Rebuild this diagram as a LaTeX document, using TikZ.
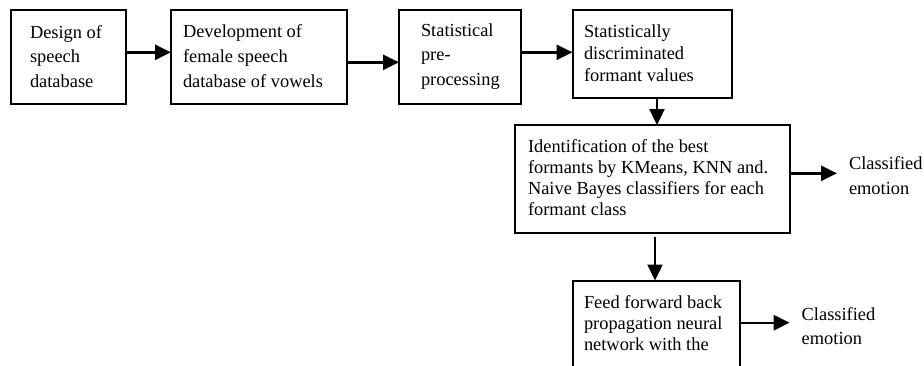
\documentclass[tikz,border=0pt]{standalone}
\usepackage{fontspec}
\setmainfont{Liberation Serif}
\usetikzlibrary{arrows.meta}
\newcommand{\tbox}[3]{\parbox[t]{#1}{\fontsize{18.4}{#2}\selectfont\raggedright #3}}
\begin{document}
\begin{tikzpicture}[x=1pt,y=-1pt,
  box/.style={draw, line width=2pt, inner sep=0pt, outer sep=0pt, anchor=north west},
  txt/.style={inner sep=0pt, outer sep=0pt, anchor=base west},
  arr/.style={line width=2.4pt, -{Triangle[length=16pt,width=15pt]}}]
\useasboundingbox (0,0) rectangle (924,365);
\clip (0,0) rectangle (924,365);
% boxes
\node[box, minimum width=115pt, minimum height=94pt] (b1) at (10.5,10) {};
\node[box, minimum width=176pt, minimum height=94pt] (b2) at (171,10) {};
\node[box, minimum width=122pt, minimum height=94pt] (b3) at (399,10) {};
\node[box, minimum width=159pt, minimum height=88pt] (b4) at (572.5,10) {};
\node[box, minimum width=275pt, minimum height=107.5pt] (b5) at (515,125) {};
\node[box, minimum width=167pt, minimum height=100pt] (b6) at (572.5,280.5) {};
% texts
\node[txt] (t1) at (30,38.3) {\tbox{95pt}{24.5}{Design of\\speech\\database}};
\node[txt] (t2) at (183,37.3) {\tbox{160pt}{25}{Development of\\female speech\\database of vowels}};
\node[txt] (t3) at (421,36.7) {\tbox{95pt}{24.2}{Statistical\\pre-\\processing}};
\node[txt] (t4) at (584,37.3) {\tbox{140pt}{22}{Statistically\\discriminated\\formant values}};
\node[txt] (t5) at (528,152.7) {\tbox{255pt}{21}{Identification of the best\\formants by KMeans, KNN and.\\Naive Bayes classifiers for each\\formant class}};
\node[txt] (t6) at (584,308.3) {\tbox{150pt}{21}{Feed forward back\\propagation neural\\network with the}};
\node[txt] (L1) at (849,169.3) {\tbox{75pt}{25}{Classified\\emotion}};
\node[txt] (L2) at (801.7,320) {\tbox{75pt}{24}{Classified\\emotion}};
% connectors
\draw[arr] (b1.east |- 0,52.3) -- (b2.west |- 0,52.3);
\draw[arr] (b2.east |- 0,62.3) -- (b3.west |- 0,62.3);
\draw[arr] (b3.east |- 0,52.3) -- (b4.west |- 0,52.3);
\draw[arr] (b4.south -| 657,0) -- (b5.north -| 657,0);
\draw[arr] (b5.east |- 0,173.3) -- ([xshift=-12pt]L1.west |- 0,173.3);
\draw[arr] ([yshift=-4pt]b5.south -| 655,0) -- (b6.north -| 655,0);
\draw[arr] (b6.east |- 0,322.7) -- ([xshift=-12pt]L2.west |- 0,322.7);
\end{tikzpicture}
\end{document}
